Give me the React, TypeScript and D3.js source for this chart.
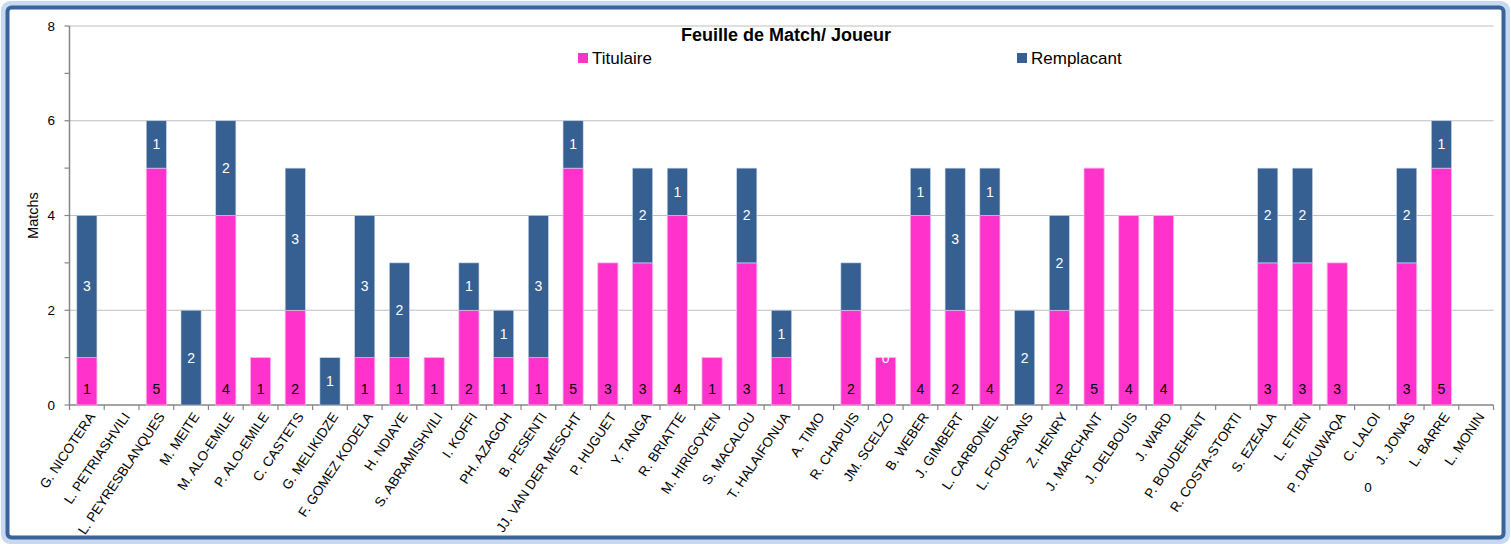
import { useRef, useEffect } from 'react';
import * as d3 from 'd3';

const players = [
  'G. NICOTERA', 'L. PETRIASHVILI', 'L. PEYRESBLANQUES', 'M. MEITE', 'M. ALO-EMILE',
  'P. ALO-EMILE', 'C. CASTETS', 'G. MELIKIDZE', 'F. GOMEZ KODELA', 'H.  NDIAYE',
  'S. ABRAMISHVILI', 'I. KOFFI', 'PH. AZAGOH', 'B. PESENTI', 'JJ. VAN DER MESCHT',
  'P. HUGUET', 'Y. TANGA', 'R. BRIATTE', 'M. HIRIGOYEN', 'S. MACALOU',
  'T. HALAIFONUA', 'A. TIMO', 'R. CHAPUIS', 'JM. SCELZO', 'B. WEBER',
  'J. GIMBERT', 'L. CARBONEL', 'L. FOURSANS', 'Z. HENRY', 'J. MARCHANT',
  'J. DELBOUIS', 'J. WARD', 'P. BOUDEHENT', 'R. COSTA-STORTI', 'S. EZEALA',
  'L. ETIEN', 'P. DAKUWAQA', 'C. LALOI', 'J. JONAS', 'L. BARRE', 'L. MONIN',
];

const titulaire = [
  1, 0, 5, 0, 4, 1, 2, 0, 1, 1, 1, 2, 1, 1, 5, 3, 3, 4, 1, 3,
  1, 0, 2, 1, 4, 2, 4, 0, 2, 5, 4, 4, 0, 0, 3, 3, 3, 0, 3, 5, 0,
];

const remplacant = [
  3, 0, 1, 2, 2, 0, 3, 1, 3, 2, 0, 1, 1, 3, 1, 0, 2, 1, 0, 2,
  1, 0, 1, 0, 1, 3, 1, 2, 2, 0, 0, 0, 0, 0, 2, 2, 0, 0, 2, 1, 0,
];

// labels Excel did not show / showed on zero-height segments
const hiddenTitulaireLabels = ['JM. SCELZO'];
const hiddenRemplacantLabels = ['R. CHAPUIS'];
const zeroRemplacantLabels = ['JM. SCELZO'];
const strayLabel = { player: 'C. LALOI', text: '0' };

const yTicks = [0, 2, 4, 6, 8];
const yMinorTicks = [1, 3, 5, 7];

const PINK = '#ff33cc';
const BLUE = '#376092';

export default function App() {
  const svgRef = useRef<SVGSVGElement>(null);

  useEffect(() => {
    if (!svgRef.current) return;
    const width = 1511;
    const height = 544;
    const svg = d3.select(svgRef.current);
    svg.selectAll('*').remove();
    svg.attr('width', width).attr('height', height);

    // frame
    svg.append('rect')
      .attr('x', 5).attr('y', 5).attr('width', 1501).attr('height', 535)
      .attr('rx', 5)
      .attr('fill', 'none').attr('stroke', '#c6d9f1').attr('stroke-width', 8);
    svg.append('rect')
      .attr('x', 7.5).attr('y', 7.5).attr('width', 1496).attr('height', 530)
      .attr('rx', 4)
      .attr('fill', '#fff').attr('stroke', '#3a6399').attr('stroke-width', 4);

    const x = d3.scaleBand<string>().domain(players).range([69.5, 1493.5])
      .paddingInner(0.42).paddingOuter(0.21);
    const step = x.step();
    const y = d3.scaleLinear().domain([0, 8]).range([405, 26]);
    const font = 'Liberation Sans, Arial, sans-serif';

    const g = svg.append('g');

    // gridlines
    g.selectAll('line.grid').data(yTicks.filter(t => t > 0)).join('line')
      .attr('x1', 69.5).attr('x2', 1493.5)
      .attr('y1', d => y(d)).attr('y2', d => y(d))
      .attr('stroke', '#bfbfbf').attr('stroke-width', 1);

    // y axis
    g.append('line')
      .attr('x1', 69.5).attr('x2', 69.5).attr('y1', y(8)).attr('y2', y(0))
      .attr('stroke', '#868686').attr('stroke-width', 1.5);
    g.selectAll('line.ytick').data([...yTicks, ...yMinorTicks]).join('line')
      .attr('x1', 64.5).attr('x2', 69.5)
      .attr('y1', d => y(d)).attr('y2', d => y(d))
      .attr('stroke', '#868686').attr('stroke-width', 1.2);
    g.selectAll('text.ytick').data(yTicks).join('text')
      .attr('x', 55).attr('y', d => y(d)).attr('dy', '0.35em')
      .attr('text-anchor', 'end')
      .attr('font-family', font).attr('font-size', 13.5)
      .text(d => d);
    g.append('text')
      .attr('transform', `translate(38,${y(4)}) rotate(-90)`)
      .attr('text-anchor', 'middle')
      .attr('font-family', font).attr('font-size', 14.5)
      .text('Matchs');

    // x axis
    g.append('line')
      .attr('x1', 69.5).attr('x2', 1493.5).attr('y1', y(0)).attr('y2', y(0))
      .attr('stroke', '#868686').attr('stroke-width', 1.5);
    g.selectAll('line.xtick').data(d3.range(players.length + 1)).join('line')
      .attr('x1', i => 69.5 + i * step).attr('x2', i => 69.5 + i * step)
      .attr('y1', y(0)).attr('y2', y(0) + 5)
      .attr('stroke', '#868686').attr('stroke-width', 1.2);
    g.selectAll('text.xlab').data(players).join('text')
      .attr('transform', d => `translate(${(x(d) ?? 0) + x.bandwidth() / 2 + 5},${414}) rotate(-56)`)
      .attr('text-anchor', 'end')
      .attr('dy', '0.35em')
      .attr('font-family', font).attr('font-size', 13.5)
      .text(d => d);

    // bars
    const rows = players.map((p, i) => ({ p, t: titulaire[i], r: remplacant[i] }));
    g.selectAll('rect.tit').data(rows.filter(d => d.t > 0)).join('rect')
      .attr('x', d => x(d.p) ?? 0).attr('width', x.bandwidth())
      .attr('y', d => y(d.t)).attr('height', d => y(0) - y(d.t))
      .attr('fill', PINK).attr('stroke', '#ffb3ec').attr('stroke-width', 0.8);
    g.selectAll('rect.rem').data(rows.filter(d => d.r > 0)).join('rect')
      .attr('x', d => x(d.p) ?? 0).attr('width', x.bandwidth())
      .attr('y', d => y(d.t + d.r)).attr('height', d => y(d.t) - y(d.t + d.r))
      .attr('fill', BLUE).attr('stroke', '#c9d6e8').attr('stroke-width', 0.6);

    // labels
    g.selectAll('text.tl').data(rows.filter(d => d.t > 0 && !hiddenTitulaireLabels.includes(d.p))).join('text')
      .attr('x', d => (x(d.p) ?? 0) + x.bandwidth() / 2).attr('y', y(0) - 16)
      .attr('dy', '0.35em').attr('text-anchor', 'middle')
      .attr('font-family', font).attr('font-size', 14).attr('fill', '#000')
      .text(d => d.t);
    g.selectAll('text.rl')
      .data(rows.filter(d => (d.r > 0 && !hiddenRemplacantLabels.includes(d.p)) || zeroRemplacantLabels.includes(d.p)))
      .join('text')
      .attr('x', d => (x(d.p) ?? 0) + x.bandwidth() / 2)
      .attr('y', d => d.r > 0 ? y(d.t + d.r / 2) : y(d.t))
      .attr('dy', '0.35em').attr('text-anchor', 'middle')
      .attr('font-family', font).attr('font-size', 14).attr('fill', '#fff')
      .text(d => d.r);

    g.append('text')
      .attr('x', (x(strayLabel.player) ?? 0) + x.bandwidth() / 2 - 4).attr('y', 487)
      .attr('dy', '0.35em').attr('text-anchor', 'middle')
      .attr('font-family', font).attr('font-size', 13.5)
      .text(strayLabel.text);

    // title + legend
    svg.append('text')
      .attr('x', 786).attr('y', 35).attr('dy', '0.35em').attr('text-anchor', 'middle')
      .attr('font-family', font).attr('font-weight', 'bold').attr('font-size', 18)
      .text('Feuille de Match/ Joueur');
    const legend = [
      { name: 'Titulaire', color: PINK, x: 578 },
      { name: 'Remplacant', color: BLUE, x: 1017 },
    ];
    legend.forEach(l => {
      svg.append('rect').attr('x', l.x).attr('y', 53).attr('width', 10).attr('height', 10)
        .attr('fill', l.color);
      svg.append('text').attr('x', l.x + 14).attr('y', 58).attr('dy', '0.35em')
        .attr('font-family', font).attr('font-size', 17).text(l.name);
    });
  }, []);

  return (
    <svg ref={svgRef} style={{ position: 'absolute', left: 0, top: 0 }} />
  );
}
